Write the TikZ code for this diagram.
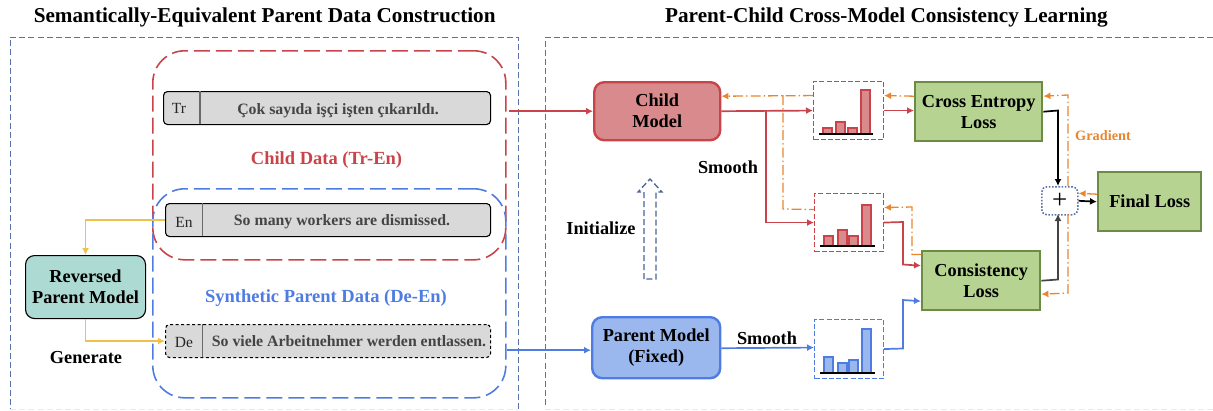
\documentclass[tikz,border=0pt]{standalone}
\usepackage{fontspec}
\setmainfont{Liberation Serif}
\usetikzlibrary{arrows.meta,calc}
\definecolor{cred}{HTML}{C9444A}
\definecolor{credf}{HTML}{D88A8C}
\definecolor{cblue}{HTML}{4E7CE2}
\definecolor{cbluef}{HTML}{9AB7EE}
\definecolor{cgreen}{HTML}{6C8B45}
\definecolor{cgreenf}{HTML}{B6D391}
\definecolor{cteal}{HTML}{ADDAD3}
\definecolor{corange}{HTML}{E8862E}
\definecolor{cyellow}{HTML}{F0C04E}
\definecolor{cpanel}{HTML}{5A72AC}
\definecolor{cinit}{HTML}{4A6199}
\definecolor{cgray}{HTML}{D9D9D9}
\definecolor{ctext}{HTML}{444444}
\tikzset{
 panelbox/.style={draw=cpanel,line width=1pt,dash pattern=on 6pt off 3.2pt},
 bigdash/.style={line width=1.6pt,dash pattern=on 16pt off 6pt,rounded corners=32pt},
 sentbox/.style={draw=black,fill=cgray,line width=1.1pt,rounded corners=4pt},
 lab/.style={font=\bfseries\fontsize{18.3}{21}\selectfont,align=center,inner sep=0pt},
 grouplab/.style={font=\bfseries\fontsize{18.5}{21}\selectfont,inner sep=0pt},
 sent/.style={font=\bfseries\fontsize{15.8}{18}\selectfont,text=ctext,inner sep=0pt},
 tag/.style={font=\fontsize{15.5}{18}\selectfont,text=black!85,inner sep=0pt},
 title/.style={font=\bfseries\fontsize{21.2}{24}\selectfont,inner sep=0pt},
 lossbox/.style={lab,draw=cgreen,fill=cgreenf,line width=2.4pt},
 hist/.style={line width=1.1pt,dash pattern=on 5pt off 2.2pt},
 ar/.style={-{Latex[length=7pt,width=7pt]}},
 redar/.style={ar,draw=cred,line width=1.7pt},
 bluear/.style={ar,draw=cblue,line width=1.7pt},
 blackar/.style={ar,draw=black,line width=1.7pt},
 yellowar/.style={ar,draw=cyellow,line width=1.7pt},
 grad/.style={ar,draw=corange,line width=1.3pt,dash pattern=on 10pt off 3pt on 1.5pt off 3pt},
 redbar/.style={draw=cred,fill=credf,line width=1.2pt},
 bluebar/.style={draw=cblue,fill=cbluef,line width=1.2pt},
}
\begin{document}
\begin{tikzpicture}[x=1pt,y=-1pt]
\useasboundingbox (0,0) rectangle (1213,410);
% panels
\node[title] (t1) at (264.7,17.5) {Semantically-Equivalent Parent Data Construction};
\node[title] (t2) at (886.5,17.5) {Parent-Child Cross-Model Consistency Learning};
\draw[panelbox] (518,409) -- (518,37) -- (10,37) -- (10,409);
\draw[panelbox] (1213,37) -- (545,37) -- (545,409);
\draw[panelbox,draw=cpanel!15] (10,409) -- (518,409);
\draw[panelbox,draw=cpanel!15] (545,409) -- (1213,409);
% data groups
\node[draw=cred,bigdash,minimum width=353pt,minimum height=209pt,anchor=north west,inner sep=0pt] (childgroup) at (152,50) {};
\node[draw=cblue,bigdash,minimum width=353pt,minimum height=209pt,anchor=north west,inner sep=0pt] (parentgroup) at (152,188) {};
% sentences
\node[sentbox,minimum width=327pt,minimum height=33pt,anchor=north west,inner sep=0pt] (tr) at (163,91) {};
\node[sentbox,minimum width=325pt,minimum height=33pt,anchor=north west,inner sep=0pt] (en) at (165,203) {};
\node[sentbox,dash pattern=on 3pt off 2.5pt,minimum width=325pt,minimum height=33pt,anchor=north west,inner sep=0pt] (de) at (165,324) {};
\draw[draw=ctext!80,line width=1.4pt] (200,91) -- (200,124);
\draw[draw=ctext!80,line width=1.4pt] (202.5,203) -- (202.5,236);
\draw[draw=ctext!80,line width=1.4pt] (202.5,324) -- (202.5,357);
\node[tag] (trt) at (179,108) {Tr};
\node[tag] (ent) at (184,222) {En};
\node[tag] (det) at (184,342) {De};
\node[sent] (trs) at (338,110.5) {Çok sayıda işçi işten çıkarıldı.};
\node[sent] (ens) at (342,221.5) {So many workers are dismissed.};
\node[sent] (des) at (349,341.5) {So viele Arbeitnehmer werden entlassen.};
\node[grouplab,text=cred] (cd) at (326.5,160) {Child Data (Tr-En)};
\node[grouplab,text=cblue] (pd) at (326,298) {Synthetic Parent Data (De-En)};
% reversed parent
\node[lab,draw=black,fill=cteal,line width=1.1pt,rounded corners=9pt,minimum width=120pt,minimum height=63pt,anchor=north west] (rev) at (25,255) {Reversed\\Parent Model};
\node[lab] (gen) at (86,358) {Generate};
\draw[yellowar] (en.west) -| (rev.north);
\draw[yellowar] (rev.south) |- (de.west);
% models
\node[lab,draw=cred,fill=credf,rounded corners=10pt,line width=2.4pt,minimum width=126pt,minimum height=58pt,anchor=north west] (child) at (593,81) {Child\\Model};
\node[lab,draw=cblue,fill=cbluef,rounded corners=10pt,line width=2.4pt,minimum width=128pt,minimum height=61pt,anchor=north west] (parent) at (591,316) {Parent Model\\(Fixed)};
% histograms
\node[hist,draw=cred,minimum width=70pt,minimum height=58pt,anchor=north west,inner sep=0pt] (h1) at (813,81) {};
\node[hist,draw=cred,minimum width=69pt,minimum height=58pt,anchor=north west,inner sep=0pt] (h2) at (814,193) {};
\node[hist,draw=cblue,minimum width=69pt,minimum height=59pt,anchor=north west,inner sep=0pt] (h3) at (814,319) {};
\draw[redbar] (823,134) rectangle (832,128) (836,134) rectangle (845,122) (848,134) rectangle (857,128) (861,134) rectangle (870,90);
\draw[black,line width=1.2pt] (819,134) -- (873,134);
\draw[redbar] (824,246) rectangle (833,236) (838,246) rectangle (847,230) (849,246) rectangle (858,236) (862,246) rectangle (871,205);
\draw[black,line width=1.2pt] (820,246) -- (875,246);
\draw[bluebar] (824,373) rectangle (833,357) (838,373) rectangle (847,363) (849,373) rectangle (858,360) (862,373) rectangle (871,329);
\draw[black,line width=1.2pt] (820,373) -- (875,373);
% losses
\node[lossbox,minimum width=127pt,minimum height=59pt,anchor=north west] (ce) at (914,81) {Cross Entropy\\Loss};
\node[lossbox,minimum width=118pt,minimum height=59pt,anchor=north west] (cons) at (921,250) {Consistency\\Loss};
\node[lossbox,minimum width=103pt,minimum height=59pt,anchor=north west] (final) at (1097,171) {Final Loss};
\node[draw=cpanel,line width=1.6pt,dash pattern=on 1.6pt off 1.6pt,rounded corners=5pt,minimum width=36pt,minimum height=28pt,anchor=north west,inner sep=0pt,font=\fontsize{27}{27}\selectfont] (plus) at (1041,186) {+};
% initialize arrow
\draw[draw=cinit,line width=1.3pt,dash pattern=on 6pt off 3pt] (644,279) -- (644,192) -- (638,192) -- (650,179) -- (662,192) -- (656,192) -- (656,279) -- cycle;
\node[lab] (init) at (601,228) {Initialize};
\node[lab] (sm1) at (728,167) {Smooth};
\node[lab] (sm2) at (767,338) {Smooth};
\node[font=\bfseries\fontsize{14.3}{17}\selectfont,text=corange,inner sep=0pt] (gr) at (1103,136) {Gradient};
% forward connectors
\coordinate (pin) at ([yshift=-2.5pt]parent.west);
\coordinate (brt) at (766,110);
\draw[redar] ([xshift=2pt]childgroup.east|-child.west) -- (child.west);
\draw[redar] (child.east) -- (h1.west);
\draw[redar] (brt) |- (h2.west);
\draw[redar] (h1.east) -- (h1.east-|ce.west);
\draw[redar] (h2.east) -- (903,222) -- (903,264.5) -- ([yshift=15pt]cons.west);
\draw[bluear] (parentgroup.east|-pin) -- (pin);
\draw[bluear] ([yshift=-0.5pt]parent.east) -- ([yshift=1.5pt]h3.west);
\draw[bluear] (h3.east) -- (903,348.5) -- (903,300) -- ([yshift=-20.5pt]cons.west);
\draw[blackar] (ce.east) -- (1058,110.5) -- (1058,186);
\draw[ar,draw=ctext,line width=1.7pt] (cons.east) -- (1058,279.5) -- (1058,214);
\draw[blackar] (plus.east) -- (final.west);
% gradient connectors
\draw[grad] ([yshift=7.5pt]final.west) -- ([yshift=7.5pt]plus.east);
\draw[grad] (1068,186) -- (1068,95) -- ([yshift=15.5pt]ce.east);
\draw[grad] (1068,214) -- (1068,293) -- ([yshift=-13.5pt]cons.east);
\draw[grad] ([yshift=15.5pt]ce.west) -- ([yshift=15pt]h1.east);
\draw[grad] ([yshift=15pt]h1.west) -- ([yshift=15pt]child.east);
\draw[grad,-] (783,95) -- (783,209) -- ([yshift=13pt]h2.west);
\draw[grad] (921,254.5) -- (912,254.5) -- (912,207) -- ([yshift=15pt]h2.east);
\end{tikzpicture}
\end{document}
